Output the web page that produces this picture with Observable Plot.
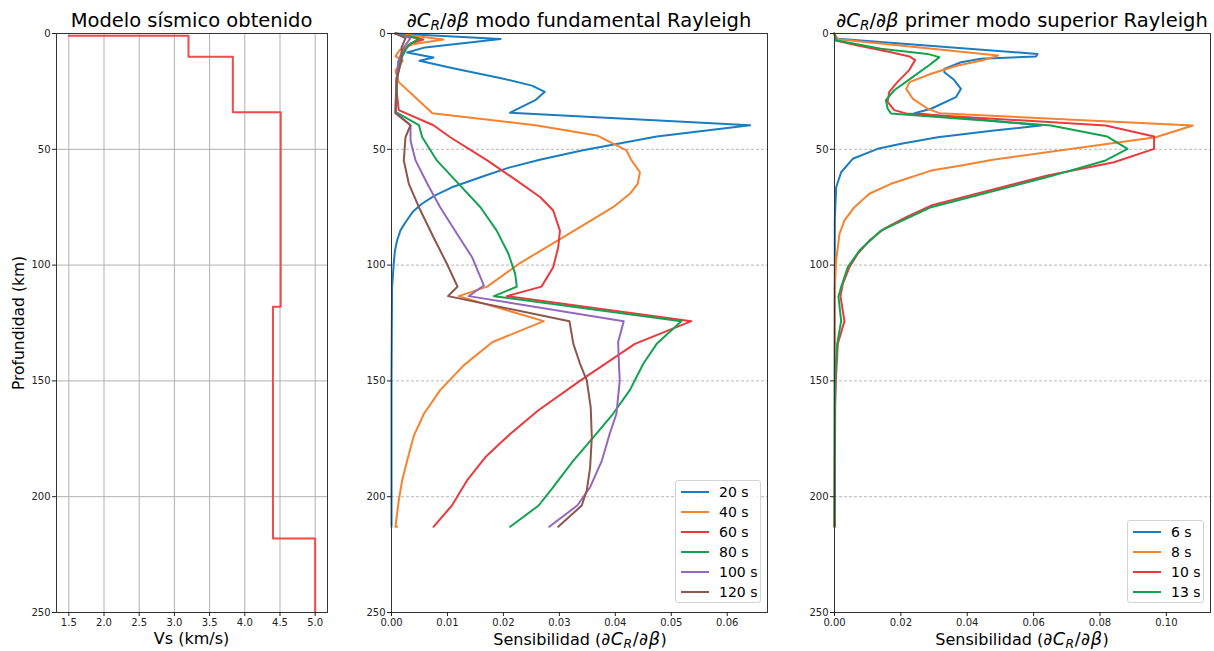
<!DOCTYPE html>
<html><head><meta charset="utf-8">
<script src="https://cdn.jsdelivr.net/npm/d3@7"></script>
<script src="https://cdn.jsdelivr.net/npm/@observablehq/plot@0.6"></script>
<style>
body{margin:0;background:#fff;font-family:"DejaVu Sans",sans-serif;}
#wrap{position:relative;width:1214px;height:651px;overflow:hidden;background:#fff;}
.panel{position:absolute;top:0;}
.title{position:absolute;top:9px;font-size:19.5px;white-space:nowrap;transform:translateX(-50%);color:#000;line-height:normal;}
.xlabel{position:absolute;top:629px;font-size:16px;white-space:nowrap;transform:translateX(-50%);color:#000;line-height:normal;}
.xlabel .m{font-size:1.1em;letter-spacing:0.5px;}
.ylabel{position:absolute;left:19px;top:323px;font-size:15.5px;white-space:nowrap;transform:translate(-50%,-50%) rotate(-90deg);color:#000;line-height:normal;}
.legend{position:absolute;border:1px solid #d4d4d4;border-radius:3px;background:rgba(255,255,255,0.85);font-size:14px;box-sizing:border-box;padding-top:1px;}
.legend .row{display:flex;align-items:center;height:20px;}
.legend .sw{width:28px;height:2.4px;margin:0 10px 0 5px;}
sub{font-size:0.7em;vertical-align:-0.25em;}
</style></head>
<body>
<div id="wrap"></div>
<script>
// ---- tick labels ----
const depthTicks = [0, 50, 100, 150, 200, 250];
const vsTicks = [1.5, 2.0, 2.5, 3.0, 3.5, 4.0, 4.5, 5.0];
const fundTicks = [0, 0.01, 0.02, 0.03, 0.04, 0.05, 0.06];
const highTicks = [0, 0.02, 0.04, 0.06, 0.08, 0.10];

// ---- seismic model (Vs in km/s at layer tops, depth km) ----
const modelVs    = [1.5, 3.2, 3.83, 4.51, 4.4, 5.0, 5.0];
const modelDepth = [1, 1, 10, 34, 118, 218, 250];

// ---- fundamental-mode sensitivity kernels: [depth km, dC/dβ] ----
const fundPeriods = ["20 s", "40 s", "60 s", "80 s", "100 s", "120 s"];
const fund20 = [[0,0.0007],[2.4,0.0195],[6,0.006],[8.2,0.0028],[10.4,0.0075],[11.8,0.005],[15,0.011],[19.4,0.0198],[22.5,0.0251],[25.2,0.0274],[28.8,0.0257],[34.2,0.0212],[39.6,0.0641],[44.5,0.0474],[50.5,0.034],[54.5,0.0265],[57.9,0.021],[61.3,0.0168],[66.4,0.0108],[70,0.0077],[73.4,0.0055],[77,0.0038],[81.5,0.0025],[85,0.0016],[89.4,0.001],[94,0.0006],[99.3,0.0004],[110,0.0001],[150,0],[213,0]];
const fund40 = [[0,0.0007],[2.6,0.0093],[4.5,0.004],[7,0.0015],[9.8,0.0007],[11.7,0.002],[16,0.0007],[21,0.0013],[27,0.004],[34.4,0.0073],[39.7,0.026],[44,0.0367],[50.5,0.042],[54.8,0.0429],[59.9,0.0444],[64.9,0.044],[69.2,0.0426],[75,0.0396],[82,0.0348],[99.4,0.0228],[109.3,0.0171],[113.4,0.012],[124.2,0.0272],[133.3,0.018],[143.3,0.0129],[154,0.0087],[164.2,0.0058],[173.6,0.004],[184.4,0.0028],[193,0.0019],[201.6,0.0013],[213,0.0007],[213,0.001]];
const fund60 = [[0,0.0007],[2.6,0.0057],[4.3,0.0034],[8,0.002],[12.2,0.0013],[20,0.0009],[26.6,0.001],[33.1,0.0013],[39.6,0.0075],[44.8,0.0105],[54.8,0.0171],[63.5,0.0224],[70.7,0.0266],[76.4,0.0289],[85.1,0.0301],[92.3,0.0298],[100.9,0.0289],[109.3,0.0268],[113.4,0.0206],[124.2,0.0536],[134,0.0435],[149.8,0.0338],[162.8,0.0262],[173.6,0.0209],[182.9,0.0168],[193,0.0135],[203.8,0.0108],[213,0.0075]];
const fund80 = [[0,0.0007],[2.2,0.0049],[5,0.003],[8.6,0.0022],[12,0.0015],[20,0.001],[34,0.0008],[39.6,0.0049],[44.8,0.0055],[54.8,0.0081],[64.9,0.012],[75,0.0159],[85.1,0.0188],[95.1,0.0209],[103.8,0.0221],[109.3,0.0224],[113.4,0.0183],[124.2,0.0518],[134,0.0474],[142.6,0.045],[154,0.0426],[164.2,0.0396],[174.3,0.0361],[184.4,0.0325],[195.9,0.0289],[203.8,0.0263],[213,0.0212]];
const fund100 = [[0,0.0007],[2,0.0034],[6,0.0022],[12,0.0012],[20,0.0009],[34,0.0007],[39.6,0.0034],[46.2,0.0034],[54.8,0.0043],[64.9,0.0064],[75,0.0087],[86.5,0.0117],[96.6,0.0144],[108.8,0.0165],[113.4,0.0138],[124.2,0.0415],[133.3,0.0405],[145.5,0.0407],[149.8,0.0408],[164.2,0.0402],[172.8,0.039],[184.4,0.0376],[195.9,0.0355],[203.8,0.0332],[213,0.0282]];
const fund120 = [[0,0.0007],[2,0.0025],[6,0.0018],[11.5,0.0018],[20,0.0009],[34.4,0.0007],[39.6,0.0034],[44.8,0.0025],[54.8,0.0022],[64.9,0.0031],[75,0.0049],[88,0.0075],[99.4,0.0099],[109.3,0.0118],[111,0.0111],[113.4,0.0101],[124.2,0.0318],[134,0.0325],[142.6,0.0337],[149.8,0.0349],[161.3,0.0356],[174.3,0.0358],[187.3,0.0355],[197.3,0.0349],[203.8,0.034],[213,0.0298]];

// ---- first higher-mode sensitivity kernels ----
const highPeriods = ["6 s", "8 s", "10 s", "13 s"];
const high6 = [[0,0],[1.4,0.0004],[2.3,0.001],[8.8,0.0612],[9.9,0.0607],[10.9,0.0441],[12.4,0.0381],[15.3,0.0331],[16.7,0.0331],[20,0.036],[23.9,0.0381],[27.5,0.0366],[32.5,0.0291],[34.4,0.0241],[39.7,0.0622],[41.9,0.0481],[44.8,0.0311],[47.6,0.0201],[49.8,0.013],[54.1,0.0055],[59.9,0.002],[66.4,0.0005],[80,0.0001],[213,0]];
const high8 = [[0,0],[1.5,0.0005],[2.5,0.0012],[9.5,0.0493],[11.4,0.0451],[13.8,0.0371],[17.4,0.0291],[21,0.0226],[23.9,0.0216],[28.2,0.0236],[32.5,0.0281],[34.4,0.0316],[39.7,0.108],[44.8,0.0968],[54.5,0.0477],[57,0.0382],[59.2,0.0291],[64.9,0.017],[69.2,0.0105],[75,0.006],[80.7,0.003],[86.5,0.0015],[98,0.0005],[110,0.0001],[213,0]];
const high10 = [[0,0],[3,0.0004],[5.2,0.007],[8.1,0.017],[9.9,0.0226],[11.5,0.0243],[15.8,0.0225],[20.9,0.019],[25.2,0.0165],[29.5,0.016],[33.1,0.018],[34.5,0.0215],[39.7,0.0817],[44.5,0.0963],[49.8,0.0963],[55.6,0.0842],[61.3,0.0642],[74.3,0.0291],[79.3,0.0216],[84.3,0.015],[89.4,0.0105],[95.1,0.007],[100.9,0.0045],[108.1,0.0025],[113.4,0.0018],[124.2,0.003],[134,0.001],[147,0.0005],[160,0.0002],[213,0.0001]];
const high13 = [[0,0],[2.9,0.0004],[6.6,0.014],[8.8,0.028],[10.2,0.0316],[11.5,0.0305],[13.7,0.0285],[19.4,0.023],[24.5,0.018],[28.8,0.0155],[32.4,0.016],[34.5,0.017],[39.7,0.0652],[44.5,0.0822],[49.8,0.0883],[54.8,0.0817],[62,0.0642],[75,0.0291],[85.1,0.014],[93.7,0.0075],[100.9,0.004],[109.5,0.002],[113.6,0.0012],[124.2,0.002],[134,0.0008],[150,0.0002],[213,0]];

// ---- styles ----
const fundColors = ["#1a7dbf", "#f5832f", "#ea3a3e", "#12a350", "#9467bd", "#8c564b"];
const highColors = ["#1a7dbf", "#f5832f", "#ea3a3e", "#12a350"];
const modelColor = "#f04a4a";

const toRows = (periods, series) =>
  periods.flatMap((p, i) => series[i].map(([d, s]) => ({period: p, depth: d, s})));

const fundRows = toRows(fundPeriods, [fund20, fund40, fund60, fund80, fund100, fund120]);
const highRows = toRows(highPeriods, [high6, high8, high10, high13]);
const modelRows = modelVs.map((v, i) => ({vs: v, depth: modelDepth[i]}));

const baseStyle = {fontFamily: "DejaVu Sans", fontSize: "10px", color: "#222", background: "transparent", overflow: "visible"};
const H = 651, MT = 33, MB = 39;

const p1 = Plot.plot({
  width: 340, height: H, marginTop: MT, marginBottom: MB, marginLeft: 56, marginRight: 13,
  x: {domain: [1.325, 5.175]},
  y: {domain: [0, 250], reverse: true},
  style: baseStyle,
  marks: [
    Plot.gridX({ticks: vsTicks, stroke: "#b0b0b0", strokeOpacity: 1}),
    Plot.gridY({ticks: depthTicks, stroke: "#b0b0b0", strokeOpacity: 1}),
    Plot.line(modelRows, {x: "vs", y: "depth", curve: "step-before", stroke: modelColor, strokeWidth: 2}),
    Plot.frame({stroke: "#333", strokeWidth: 1}),
    Plot.axisX({ticks: vsTicks, tickFormat: d => d.toFixed(1), tickSize: 4, tickPadding: 2, label: null}),
    Plot.axisY({ticks: depthTicks, tickSize: 4, tickPadding: 2, label: null})
  ]
});

function sensPlot(rows, periods, colors, ticks, xmax, width, ml, mr) {
  return Plot.plot({
    width, height: H, marginTop: MT, marginBottom: MB, marginLeft: ml, marginRight: mr,
    x: {domain: [0, xmax]},
    y: {domain: [0, 250], reverse: true},
    color: {domain: periods, range: colors},
    style: baseStyle,
    marks: [
      Plot.gridY({ticks: depthTicks, stroke: "#b8b8b8", strokeOpacity: 1, strokeDasharray: "3,2"}),
      Plot.line(rows, {x: "s", y: "depth", z: "period", stroke: "period", strokeWidth: 2}),
      Plot.frame({stroke: "#333", strokeWidth: 1}),
      Plot.axisX({ticks, tickFormat: d => d.toFixed(2), tickSize: 4, tickPadding: 2, label: null}),
      Plot.axisY({ticks: depthTicks, tickSize: 4, tickPadding: 2, label: null})
    ]
  });
}

const p2 = sensPlot(fundRows, fundPeriods, fundColors, fundTicks, 0.0672, 430, 51, 3);
const p3 = sensPlot(highRows, highPeriods, highColors, highTicks, 0.1133, 444, 64, 4);

const wrap = document.getElementById("wrap");
function place(node, left) { node.classList.add("panel"); node.style.left = left + "px"; wrap.appendChild(node); }
place(p1, 0); place(p2, 340); place(p3, 770);

function addDiv(cls, html, css) {
  const d = document.createElement("div");
  d.className = cls; d.innerHTML = html; Object.assign(d.style, css || {});
  wrap.appendChild(d); return d;
}
const dd = '<i>∂C<sub>R</sub></i>/<i>∂β</i>';
const ddm = '<span class="m">' + dd + '</span>';
addDiv("title", "Modelo sísmico obtenido", {left: "191.5px"});
addDiv("title", dd + " modo fundamental Rayleigh", {left: "579px"});
addDiv("title", dd + " primer modo superior Rayleigh", {left: "1022px"});
addDiv("xlabel", "Vs (km/s)", {left: "191.5px"});
addDiv("xlabel", "Sensibilidad (" + ddm + ")", {left: "580px"});
addDiv("xlabel", "Sensibilidad (" + ddm + ")", {left: "1022px"});
addDiv("ylabel", "Profundidad (km)");

function legend(periods, colors, left, top, width) {
  const lg = addDiv("legend", "", {left: left + "px", top: top + "px", width: width + "px"});
  periods.forEach((p, i) => {
    const r = document.createElement("div"); r.className = "row";
    r.innerHTML = `<span class="sw" style="background:${colors[i]}"></span><span>${p}</span>`;
    lg.appendChild(r);
  });
  lg.style.height = (periods.length * 20 + 3) + "px";
}
legend(fundPeriods, fundColors, 675, 480, 86);
legend(highPeriods, highColors, 1127, 520, 77);
</script>
</body></html>
